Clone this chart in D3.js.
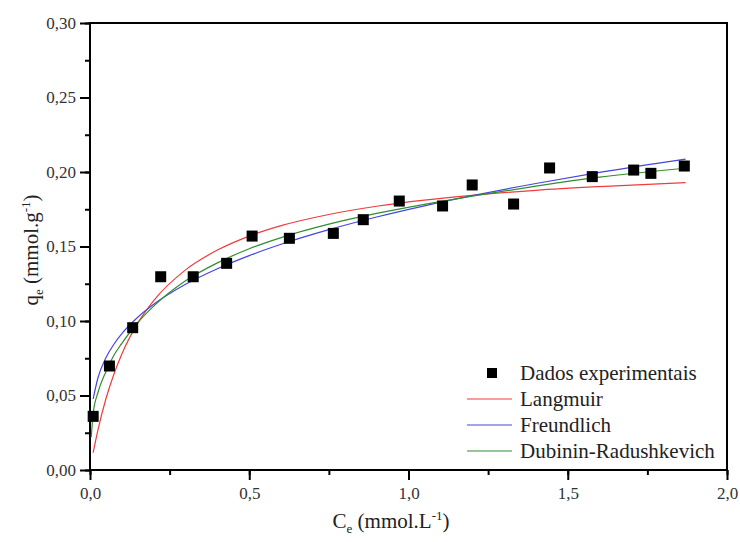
<!DOCTYPE html>
<html>
<head>
<meta charset="utf-8">
<script src="https://cdn.jsdelivr.net/npm/d3@7"></script>
<style>
  body { margin: 0; background: #fff; }
  svg text, svg tspan { font-family: Liberation Serif, serif !important; }
</style>
</head>
<body>
<svg width="740" height="542"></svg>
<script>
var expC = [0.010, 0.061, 0.134, 0.222, 0.324, 0.429, 0.509, 0.626, 0.764, 0.858, 0.971,
            1.107, 1.200, 1.330, 1.443, 1.577, 1.707, 1.761, 1.866];
var expQ = [0.036, 0.0698, 0.0955, 0.1297, 0.1297, 0.1387, 0.157, 0.1555, 0.1588, 0.168, 0.1805,
            0.1772, 0.1913, 0.1785, 0.2027, 0.1969, 0.2013, 0.1991, 0.204];

// fitted curves (values estimated along each line)
var fitC = [0.01, 0.025, 0.05, 0.075, 0.1, 0.15, 0.2, 0.3, 0.4, 0.5, 0.6, 0.75, 0.9, 1.05, 1.2, 1.4, 1.6, 1.87];
var langmuirQ = [0.0117, 0.0269, 0.0478, 0.0643, 0.0779, 0.0986, 0.1137, 0.1343, 0.1476, 0.1570,
                 0.1640, 0.1715, 0.1770, 0.1811, 0.1843, 0.1877, 0.1902, 0.1929];
var freundlichQ = [0.0478, 0.0619, 0.0753, 0.0844, 0.0915, 0.1025, 0.1112, 0.1246, 0.1351, 0.1439,
                   0.1515, 0.1613, 0.1698, 0.1773, 0.1841, 0.1923, 0.1997, 0.2086];
var drC = [0.004, 0.01, 0.025, 0.05, 0.075, 0.1, 0.15, 0.2, 0.3, 0.4, 0.5, 0.6, 0.75, 0.9, 1.05, 1.2, 1.4, 1.6, 1.87];
var drQ = [0.022, 0.038, 0.052, 0.066, 0.077, 0.085, 0.099, 0.110, 0.127, 0.139, 0.1485,
           0.156, 0.165, 0.1722, 0.1783, 0.1838, 0.1905, 0.1965, 0.2025];

var xTicks = [0, 0.5, 1.0, 1.5, 2.0];
var yTicks = [0, 0.05, 0.10, 0.15, 0.20, 0.25, 0.30];

var legendNames = ["Dados experimentais", "Langmuir", "Freundlich", "Dubinin-Radushkevich"];
var colors = { langmuir: "#f03c3c", freundlich: "#4646e0", dr: "#2f8f2f" };
var serif = "Liberation Serif";

var svg = d3.select("svg");
var x = d3.scaleLinear().domain([0, 2]).range([90, 727]);
var y = d3.scaleLinear().domain([0, 0.30]).range([470, 23]);

var locale = d3.formatLocale({ decimal: ",", thousands: ".", grouping: [3], currency: ["", ""] });

// minor ticks
svg.append("g")
  .attr("transform", "translate(0," + y(0) + ")")
  .call(d3.axisBottom(x).tickValues(d3.range(0, 2.001, 0.25)).tickSize(5).tickFormat(""))
  .call(function (g) { g.select(".domain").remove(); g.selectAll("line").attr("stroke-width", 2); });
svg.append("g")
  .attr("transform", "translate(" + x(0) + ",0)")
  .call(d3.axisLeft(y).tickValues(d3.range(0, 0.301, 0.025)).tickSize(5).tickFormat(""))
  .call(function (g) { g.select(".domain").remove(); g.selectAll("line").attr("stroke-width", 2); });

// major ticks
var xAxis = svg.append("g")
  .attr("transform", "translate(0," + y(0) + ")")
  .call(d3.axisBottom(x).tickValues(xTicks).tickSize(10).tickPadding(7).tickFormat(locale.format(".1f")));
var yAxis = svg.append("g")
  .attr("transform", "translate(" + x(0) + ",0)")
  .call(d3.axisLeft(y).tickValues(yTicks).tickSize(10).tickPadding(4).tickFormat(locale.format(".2f")));
[xAxis, yAxis].forEach(function (g) {
  g.select(".domain").remove();
  g.attr("font-family", serif).attr("font-size", 17);
  g.selectAll("line").attr("stroke-width", 2);
  g.selectAll("text").attr("fill", "#333").style("font-family", serif, "important");
});

// frame
svg.append("rect")
  .attr("x", x(0)).attr("y", y(0.30))
  .attr("width", x(2) - x(0)).attr("height", y(0) - y(0.30))
  .attr("fill", "none").attr("stroke", "#000").attr("stroke-width", 2);

// fitted lines
var line = d3.line().curve(d3.curveMonotoneX);
function drawFit(cs, qs, color) {
  svg.append("path")
    .attr("d", line(cs.map(function (c, i) { return [x(c), y(qs[i])]; })))
    .attr("fill", "none").attr("stroke", color).attr("stroke-width", 1.2);
}
drawFit(fitC, langmuirQ, colors.langmuir);
drawFit(fitC, freundlichQ, colors.freundlich);
drawFit(drC, drQ, colors.dr);

// experimental squares
var s = 11;
svg.append("g").selectAll("rect")
  .data(expC)
  .enter()
  .append("rect")
  .attr("x", function (d) { return x(d) - s / 2; })
  .attr("y", function (d, i) { return y(expQ[i]) - s / 2; })
  .attr("width", s).attr("height", s)
  .attr("fill", "#000");

// legend
var lg = svg.append("g").attr("transform", "translate(467,373)");
var lineColors = [null, colors.langmuir, colors.freundlich, colors.dr];
legendNames.forEach(function (name, i) {
  var row = lg.append("g").attr("transform", "translate(0," + (i * 26) + ")");
  if (i === 0) {
    row.append("rect").attr("x", 20).attr("y", -5).attr("width", 10).attr("height", 10).attr("fill", "#000");
  } else {
    row.append("line").attr("x1", 0).attr("x2", 45).attr("y1", 0).attr("y2", 0)
      .attr("stroke", lineColors[i]).attr("stroke-width", 1.2);
  }
  row.append("text").attr("x", 53).attr("y", 0).attr("dy", "0.35em")
    .style("font-family", serif, "important")
    .attr("font-size", 21).attr("fill", "#222").text(name);
});

// axis titles
var xt = svg.append("text").attr("x", 391).attr("y", 528)
  .style("font-family", serif, "important")
  .attr("text-anchor", "middle").attr("font-size", 21).attr("fill", "#222");
xt.append("tspan").text("C");
xt.append("tspan").attr("font-size", 13).attr("dy", 5).text("e");
xt.append("tspan").attr("dy", -5).text(" (mmol.L");
xt.append("tspan").attr("font-size", 13).attr("dy", -8).text("-1");
xt.append("tspan").attr("dy", 8).text(")");

var yt = svg.append("text").attr("transform", "translate(38,250) rotate(-90)")
  .style("font-family", serif, "important")
  .attr("text-anchor", "middle").attr("font-size", 21).attr("fill", "#222");
yt.append("tspan").text("q");
yt.append("tspan").attr("font-size", 13).attr("dy", 5).text("e");
yt.append("tspan").attr("dy", -5).text(" (mmol.g");
yt.append("tspan").attr("font-size", 13).attr("dy", -8).text("-1");
yt.append("tspan").attr("dy", 8).text(")");
</script>
</body>
</html>
